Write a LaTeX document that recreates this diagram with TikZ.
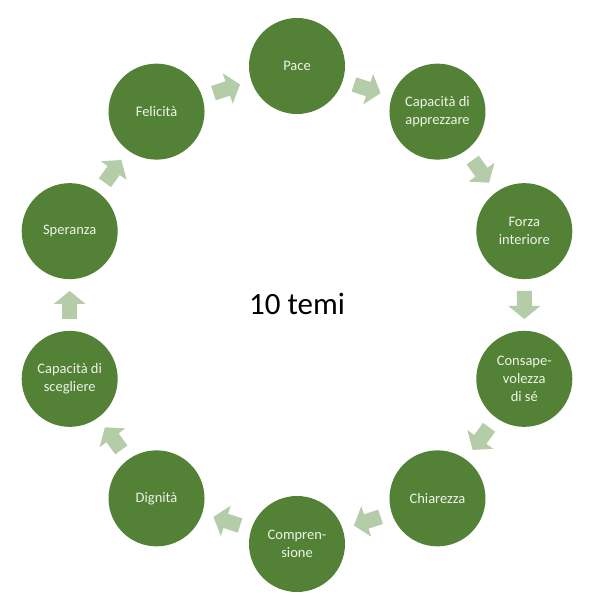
\documentclass[tikz,border=0pt]{standalone}
\usepackage{fontspec}
\setmainfont{Carlito}
\usetikzlibrary{calc}
\definecolor{circgreen}{HTML}{538135}
\definecolor{arrgreen}{HTML}{B5CCA8}
\definecolor{circtext}{HTML}{EEF4EA}
\tikzset{
  x=1pt,y=1pt,
  theme/.style={circle, fill=circgreen, minimum size=96pt, inner sep=0pt,
    text=circtext, align=center, font=\fontsize{14.5}{18}\selectfont},
  blockarrow/.pic={\fill[arrgreen] (-14,-7.5) -- (1,-7.5) -- (1,-16) -- (14,0) -- (1,16) -- (1,7.5) -- (-14,7.5) -- cycle;}
}
\begin{document}
\begin{tikzpicture}
\useasboundingbox (0,0) rectangle (592,608);
\coordinate (C) at (297,303);
\node[theme] (n0) at ($(C)+(90:239)$) {Pace};
\node[theme] (n1) at ($(C)+(54:239)$) {Capacità di\\apprezzare};
\node[theme] (n2) at ($(C)+(18:239)$) {Forza\\interiore};
\node[theme] (n3) at ($(C)+(-18:239)$) {Consape-\\volezza\\di sé};
\node[theme] (n4) at ($(C)+(-54:239)$) {Chiarezza};
\node[theme] (n5) at ($(C)+(-90:239)$) {Compren-\\sione};
\node[theme] (n6) at ($(C)+(-126:239)$) {Dignità};
\node[theme] (n7) at ($(C)+(-162:239)$) {Capacità di\\scegliere};
\node[theme] (n8) at ($(C)+(162:239)$) {Speranza};
\node[theme] (n9) at ($(C)+(126:239)$) {Felicità};
\node[font=\fontsize{31}{36}\selectfont] (title) at (297,304) {10 temi};
\foreach \a/\b in {n0/n1,n1/n2,n2/n3,n3/n4,n4/n5,n5/n6,n6/n7,n7/n8,n8/n9,n9/n0}{
  \path let \p1=($(\b)-(\a)$), \n1={atan2(\y1,\x1)} in
    pic[rotate=\n1] at ($(\a)!0.5!(\b)$) {blockarrow};
}
\end{tikzpicture}
\end{document}
